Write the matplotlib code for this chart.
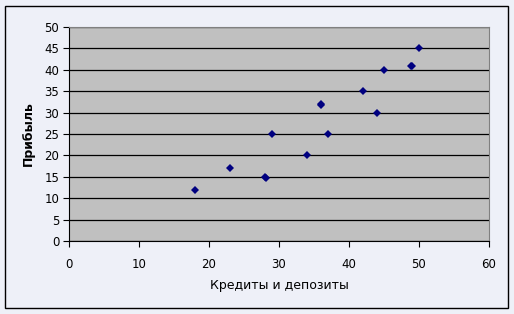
import matplotlib
matplotlib.use('Agg')
from matplotlib import pyplot as plt
from matplotlib.patches import Rectangle

# data
credits = [18, 23, 28, 28.1, 29, 34, 36, 36, 37, 42, 44, 45, 48.8, 49, 50]
profit = [12, 17, 15, 14.8, 25, 20, 32, 31.7, 25, 35, 30, 40, 41, 41, 45]
xticks = [0, 10, 20, 30, 40, 50, 60]
yticks = [0, 5, 10, 15, 20, 25, 30, 35, 40, 45, 50]

plt.rcParams['font.family'] = ['DejaVu Sans']

fig = plt.figure(figsize=(5.14, 3.14), dpi=100)
fig.patch.set_facecolor('#EEF0F8')
fig.patches.append(Rectangle((5/514, 6/314), 503/514, 302/314, transform=fig.transFigure,
                             fill=False, edgecolor='black', linewidth=1))

ax = fig.add_axes((69/514, 1-241/314, 420/514, 214/314))
ax.set_facecolor('#C0C0C0')
ax.plot(credits, profit, 'D', color='#000080', markersize=4.5, markeredgewidth=0)

ax.set_xlim(0, 60)
ax.set_ylim(0, 50)
ax.set_xticks(xticks)
ax.set_yticks(yticks)
ax.yaxis.grid(True, color='black', linewidth=0.9)
ax.set_axisbelow(True)
for s in ['top', 'right']:
    ax.spines[s].set_color('#808080')
for s in ['left', 'bottom']:
    ax.spines[s].set_color('black')
ax.tick_params(labelsize=8.5, length=4, width=0.8, direction='out', pad=3)
ax.tick_params(axis='x', pad=8)

ax.set_xlabel('Кредиты и депозиты', fontsize=9, labelpad=6)
ax.set_ylabel('Прибыль', fontsize=9, fontweight='bold', labelpad=7)

plt.savefig('out.png', dpi=100, facecolor=fig.get_facecolor())
